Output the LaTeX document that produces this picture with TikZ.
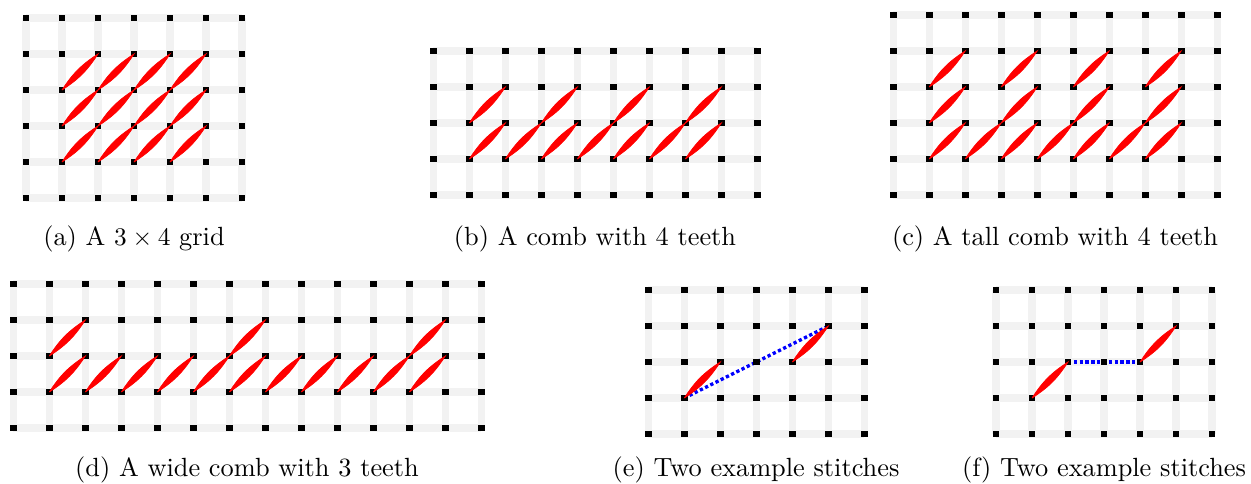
\documentclass[tikz,border=0pt]{standalone}
\usetikzlibrary{backgrounds}
\tikzset{
  gridline/.style={line width=2.8pt, draw=black!5},
  gridpt/.style={rectangle, fill=black, draw=none, inner sep=0pt, minimum size=2.7pt},
  stitchfill/.style={fill=red, draw=red, line width=0.3pt},
  jumpline/.style={draw=blue, line width=1.3pt, densely dotted},
  captext/.style={anchor=base, inner sep=0pt, font=\fontsize{10.4}{12.5}\selectfont}
}
\newcommand\stgrid[5]{%
  \begin{scope}[shift={(#2,#3)}]
    \pgfmathtruncatemacro\lastc{#4-1}
    \pgfmathtruncatemacro\lastr{#5-1}
    \begin{scope}[on background layer]
      \foreach \i in {0,...,\lastc} \draw[gridline] (\i,0) -- (\i,\lastr);
      \foreach \j in {0,...,\lastr} \draw[gridline] (0,\j) -- (\lastc,\j);
    \end{scope}
    \foreach \i in {0,...,\lastc} \foreach \j in {0,...,\lastr}
      \node[gridpt] (#1-\i-\j) at (\i,\j) {};
  \end{scope}}
\newcommand\st[3]{%
  \pgfmathtruncatemacro\stcn{#2+1}%
  \pgfmathtruncatemacro\strn{#3-1}%
  \fill[stitchfill] (#1-#2-#3.center) to[bend left=12] (#1-\stcn-\strn.center)
    to[bend left=12] (#1-#2-#3.center);}
\begin{document}
\begin{tikzpicture}[x=0.5cm, y=-0.5cm]
\useasboundingbox (0,0) rectangle (34.75,13.4167);
% (a)
\stgrid{a}{0.722}{0.5}{7}{6}
\foreach \r in {2,3,4} \foreach \c in {1,...,4} \st{a}{\c}{\r};
% (b)
\stgrid{b}{12.036}{1.417}{10}{5}
\foreach \c in {1,3,5,7} \st{b}{\c}{2};
\foreach \c in {1,...,7} \st{b}{\c}{3};
% (c)
\stgrid{c}{24.81}{0.4167}{10}{6}
\foreach \r in {2,3} \foreach \c in {1,3,5,7} \st{c}{\c}{\r};
\foreach \c in {1,...,7} \st{c}{\c}{4};
% (d)
\stgrid{d}{0.37}{7.889}{14}{5}
\foreach \c in {1,6,11} \st{d}{\c}{2};
\foreach \c in {1,...,11} \st{d}{\c}{3};
% (e)
\stgrid{e}{18.008}{8.056}{7}{5}
\begin{scope}[on background layer]
  \draw[jumpline] (e-1-3.center) -- (e-5-1.center);
\end{scope}
\st{e}{1}{3}
\st{e}{4}{2}
% (f)
\stgrid{f}{27.667}{8.056}{7}{5}
\begin{scope}[on background layer]
  \draw[jumpline] (f-2-2.center) -- (f-4-2.center);
\end{scope}
\st{f}{1}{3}
\st{f}{4}{2}
% captions
\node[captext] (capa) at (3.722,6.806) {(a) A $3\times 4$ grid};
\node[captext] (capb) at (16.528,6.806) {(b) A comb with 4 teeth};
\node[captext] (capc) at (29.306,6.806) {(c) A tall comb with 4 teeth};
\node[captext] (capd) at (6.861,13.222) {(d) A wide comb with 3 teeth};
\node[captext] (cape) at (21.0,13.222) {(e) Two example stitches};
\node[captext] (capf) at (30.667,13.222) {(f) Two example stitches};
\end{tikzpicture}
\end{document}
